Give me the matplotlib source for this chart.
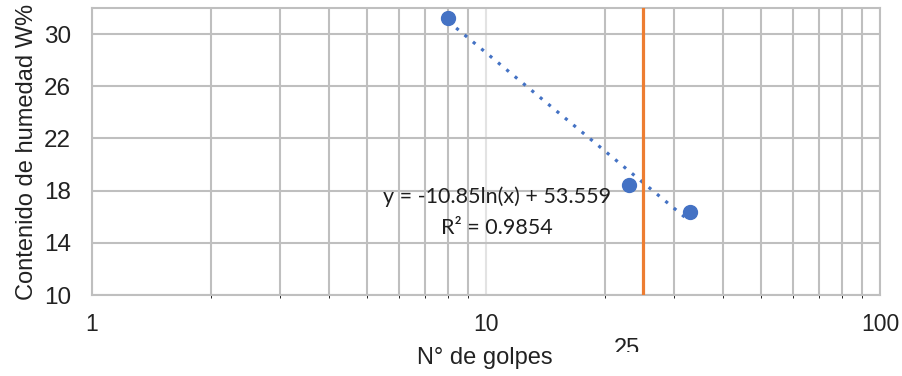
import numpy as np
import matplotlib
matplotlib.use("Agg")
import matplotlib.pyplot as plt
from matplotlib.ticker import FixedLocator, NullFormatter
from matplotlib.transforms import Bbox

# Liquid limit test: blows vs. moisture content
golpes = [8, 23, 33]
humedad = [31.25, 18.45, 16.4]
coef_a = -10.85
coef_b = 53.559
r2 = 0.9854
golpes_ref = 25
yticks = [10, 14, 18, 22, 26, 30]
xticks = [1, 10, 100]

plt.rcParams["font.family"] = ["Liberation Sans", "DejaVu Sans"]

fig = plt.figure(figsize=(9.02, 3.76), dpi=100)
ax = fig.add_axes([0.102, 0.2154, 0.8736, 0.7633])

ax.set_xscale("log")
ax.set_xlim(1, 100)
ax.set_ylim(10, 32)

grid_c = "#bfbfbf"
minor = [m * d for d in (1, 10) for m in range(2, 10)]
ax.xaxis.set_minor_locator(FixedLocator(minor))
ax.xaxis.set_minor_formatter(NullFormatter())
ax.xaxis.set_major_locator(FixedLocator(xticks))
ax.set_xticklabels([str(v) for v in xticks])
ax.set_yticks(yticks)
ax.grid(True, which="minor", axis="x", color=grid_c, lw=1.5)
ax.grid(True, which="major", axis="x", color="#e3e3e3", lw=1.5)
ax.grid(True, which="major", axis="y", color=grid_c, lw=1.5)
for s in ax.spines.values():
    s.set_color(grid_c)
    s.set_linewidth(1.5)
ax.tick_params(length=0, colors="#222222")
ax.tick_params(axis="x", pad=13, labelsize=16.5)
ax.tick_params(axis="y", pad=15, labelsize=17.5)
ax.set_axisbelow(True)

# logarithmic trendline
xt = np.logspace(np.log10(golpes[0]), np.log10(golpes[-1]), 100)
ax.plot(xt, coef_a * np.log(xt) + coef_b, ls=(0, (1, 2.4)), lw=2.3,
        color="#4472C4", zorder=3)
ax.plot(golpes, humedad, "o", ms=10, color="#4472C4", zorder=4)
ax.axvline(golpes_ref, color="#ED7D31", lw=2.3, zorder=3)

ax.text(10.66, 18.3, f"y = {coef_a}ln(x) + {coef_b}\nR² = {r2}",
        ha="center", va="top", fontsize=15.5, linespacing=1.65,
        family=["Lato", "DejaVu Sans"], color="#1e1e1e", zorder=5)

ax.set_ylabel("Contenido de humedad W%", fontsize=17, labelpad=4, color="#222222")
fig.text(485 / 902, 1 - 358 / 376, "N° de golpes", ha="center", va="center",
         fontsize=17, color="#222222")

# "25" label under the axis, its lower part hidden by the axis-title band
t = fig.text(627 / 902, 1 - 349 / 376, str(golpes_ref), ha="center", va="center",
             fontsize=17, color="#222222")
t.set_clip_box(Bbox([[0, 376 - 352], [902, 376]]))
t.set_clip_on(True)

fig.savefig("out.png", dpi=100)
